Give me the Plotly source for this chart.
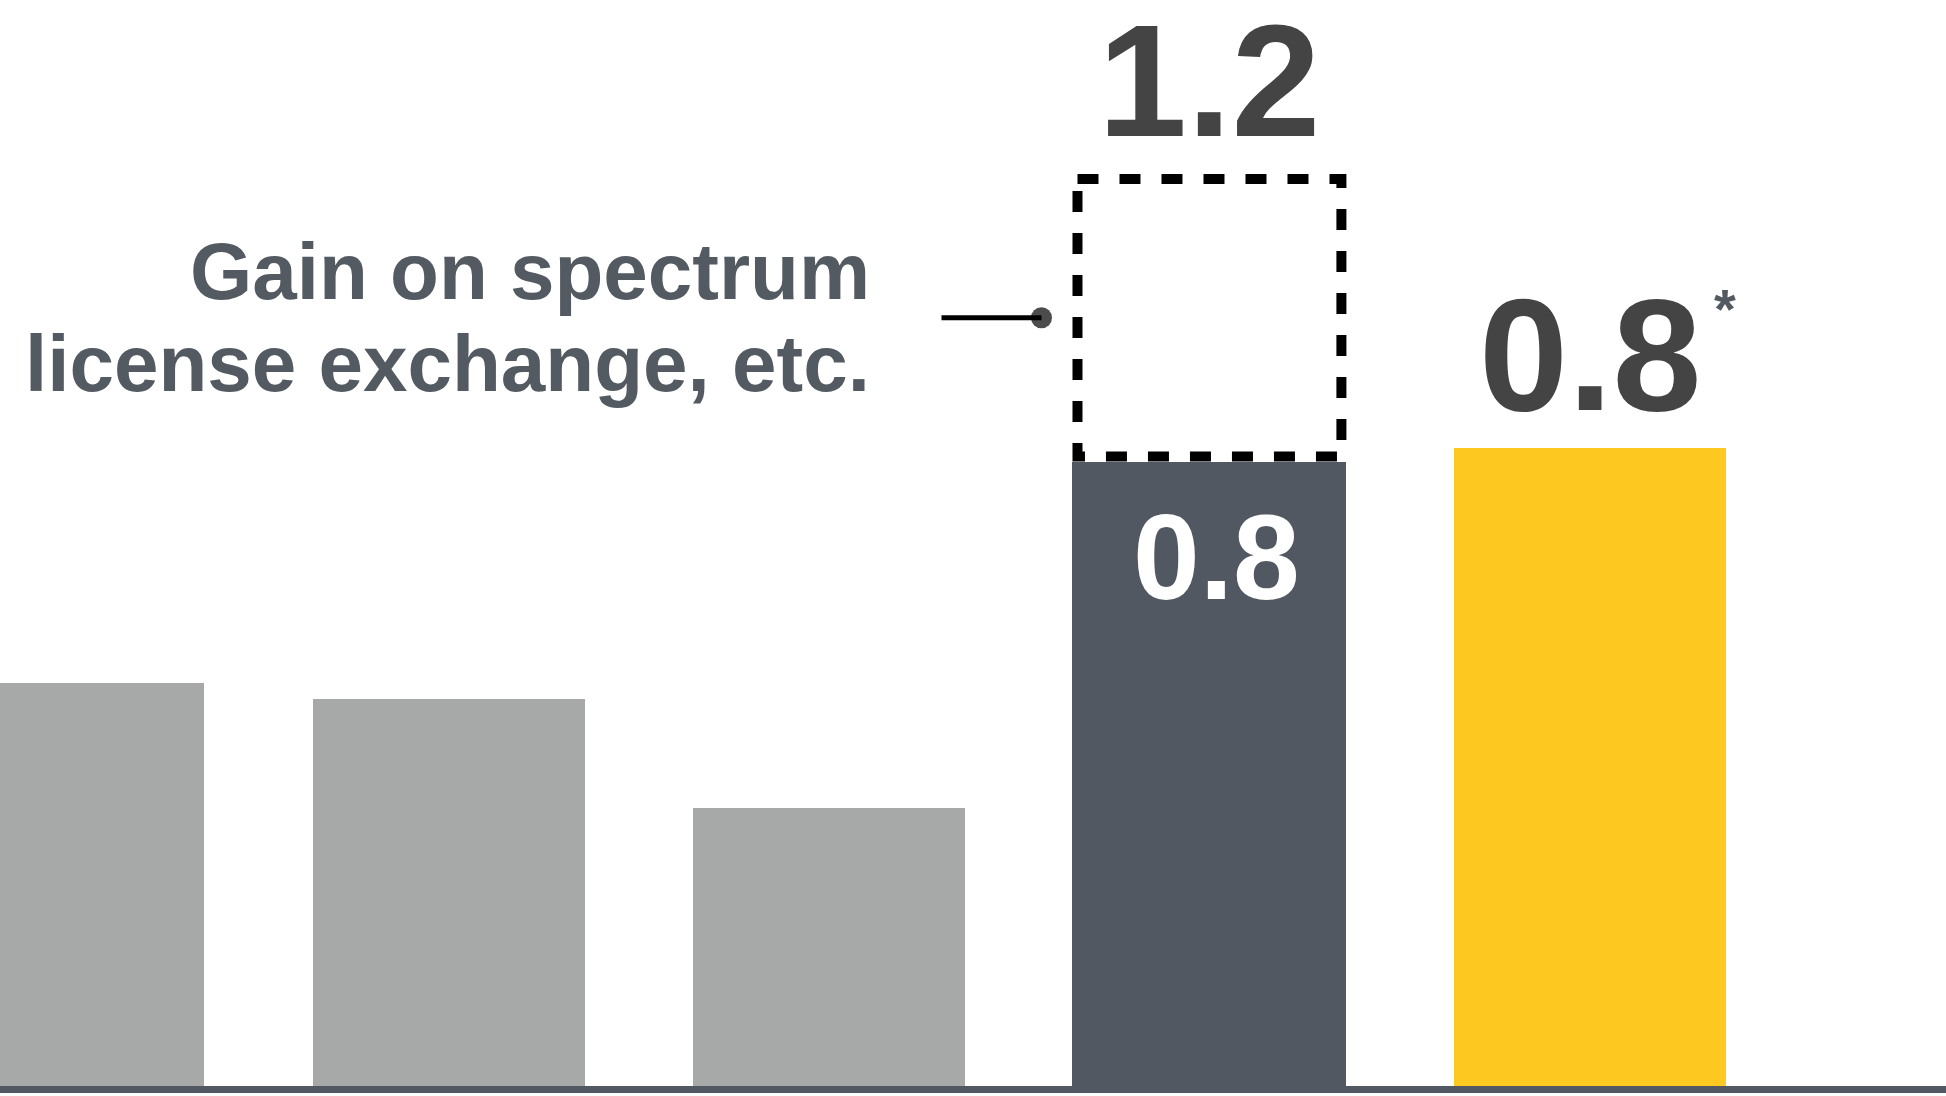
import plotly.graph_objects as go

# ---- data -------------------------------------------------------------
periods = ["FY1", "FY2", "FY3", "FY4", "FY5 (forecast)"]
past_values = [0.533, 0.512, 0.369]          # grey bars
current_value = 0.823                        # dark bar (excl. one-off gain)
current_total = 1.2                          # incl. gain on spectrum license exchange
forecast_value = 0.841                       # yellow bar
gain_label = ["Gain on spectrum", "license exchange, etc."]
forecast_mark = "*"

# ---- styling ----------------------------------------------------------
W, H = 1946, 1096
GREY = "#A7A9A8"
DARK = "#525861"
YELLOW = "#FDC81F"
TEXT_DARK = "#444444"
TEXT_NOTE = "#545A61"
FONT = "Liberation Sans, Arial, sans-serif"
BAR_W = 0.715
CUR_BAR_W = 0.72
X_RANGE = [-0.179, 4.936]
Y_RANGE = [-0.0085, 1.428]

px_x = W / (X_RANGE[1] - X_RANGE[0])       # pixels per x unit
px_y = H / (Y_RANGE[1] - Y_RANGE[0])       # pixels per y unit

pos = list(range(len(periods)))
i_cur, i_fc = 3, 4

fig = go.Figure()

# grey history bars
fig.add_trace(go.Bar(
    x=pos[:3], y=past_values, width=BAR_W,
    marker=dict(color=GREY, line=dict(width=0)),
    hovertext=periods[:3], showlegend=False,
))
# current year bar
fig.add_trace(go.Bar(
    x=[pos[i_cur]], y=[current_value], width=CUR_BAR_W,
    marker=dict(color=DARK, line=dict(width=0)),
    hovertext=[periods[i_cur]], showlegend=False,
))
# forecast bar
fig.add_trace(go.Bar(
    x=[pos[i_fc]], y=[forecast_value], width=BAR_W,
    marker=dict(color=YELLOW, line=dict(width=0)),
    hovertext=[periods[i_fc]], showlegend=False,
))

# dashed outline for the one-off gain stacked on the current bar
dash_w = 10
inset_x = (dash_w / 2) / px_x
inset_y = (dash_w / 2) / px_y
fig.add_shape(
    type="rect", xref="x", yref="y",
    x0=pos[i_cur] - CUR_BAR_W / 2 + inset_x, x1=pos[i_cur] + CUR_BAR_W / 2 - inset_x,
    y0=current_total - inset_y, y1=current_value + inset_y,
    line=dict(color="black", width=dash_w, dash="21px,21px"),
    fillcolor="rgba(0,0,0,0)", layer="above",
)

# connector from the note to the dashed box
gain_mid = (current_value + current_total) / 2
box_left = pos[i_cur] - CUR_BAR_W / 2
fig.add_trace(go.Scatter(
    x=[box_left - 131 / px_x, box_left - 31 / px_x],
    y=[gain_mid, gain_mid],
    mode="lines+markers",
    line=dict(color="black", width=5),
    marker=dict(size=[0, 21], color="black", line=dict(width=0)),
    showlegend=False, hoverinfo="skip",
))

# baseline
fig.add_shape(
    type="line", xref="paper", yref="y", x0=0, x1=1, y0=0, y1=0,
    line=dict(color=DARK, width=7), layer="above",
)

# value labels
fig.add_annotation(
    x=pos[i_cur], y=current_total, xref="x", yref="y",
    text=f"{current_total:.1f}", showarrow=False,
    xanchor="center", yanchor="bottom", yshift=2,
    font=dict(family=FONT, size=160, color=TEXT_DARK, weight=700),
)
fig.add_annotation(
    x=pos[i_fc], y=forecast_value, xref="x", yref="y",
    text=f"{forecast_value:.1f}", showarrow=False,
    xanchor="center", yanchor="bottom", yshift=2,
    font=dict(family=FONT, size=160, color=TEXT_DARK, weight=700),
)
fig.add_annotation(
    x=pos[i_fc] + BAR_W / 2, y=forecast_value, xref="x", yref="y",
    text=forecast_mark, showarrow=False,
    xanchor="left", yanchor="bottom", xshift=-14, yshift=106,
    font=dict(family=FONT, size=56, color=TEXT_NOTE, weight=700),
)
fig.add_annotation(
    x=pos[i_cur], y=current_value, xref="x", yref="y",
    text=f"{current_value:.1f}", showarrow=False,
    xanchor="center", yanchor="top", xshift=7, yshift=-26,
    font=dict(family=FONT, size=120, color="white", weight=700),
)

# note text, right-aligned next to the connector
note_right = 872 / W
for line, base_px in zip(gain_label, [300, 392]):
    fig.add_annotation(
        x=note_right, y=1 - (base_px + 18) / H, xref="paper", yref="paper",
        text=line, showarrow=False, xanchor="right", yanchor="bottom",
        font=dict(family=FONT, size=80, color=TEXT_NOTE, weight=700),
    )

fig.update_layout(
    width=W, height=H,
    margin=dict(l=0, r=0, t=0, b=0),
    paper_bgcolor="white", plot_bgcolor="white",
    barmode="overlay", bargap=0,
    xaxis=dict(range=X_RANGE, visible=False, showgrid=False, zeroline=False),
    yaxis=dict(range=Y_RANGE, visible=False, showgrid=False, zeroline=False),
    showlegend=False,
)

fig.write_html("out.html")
